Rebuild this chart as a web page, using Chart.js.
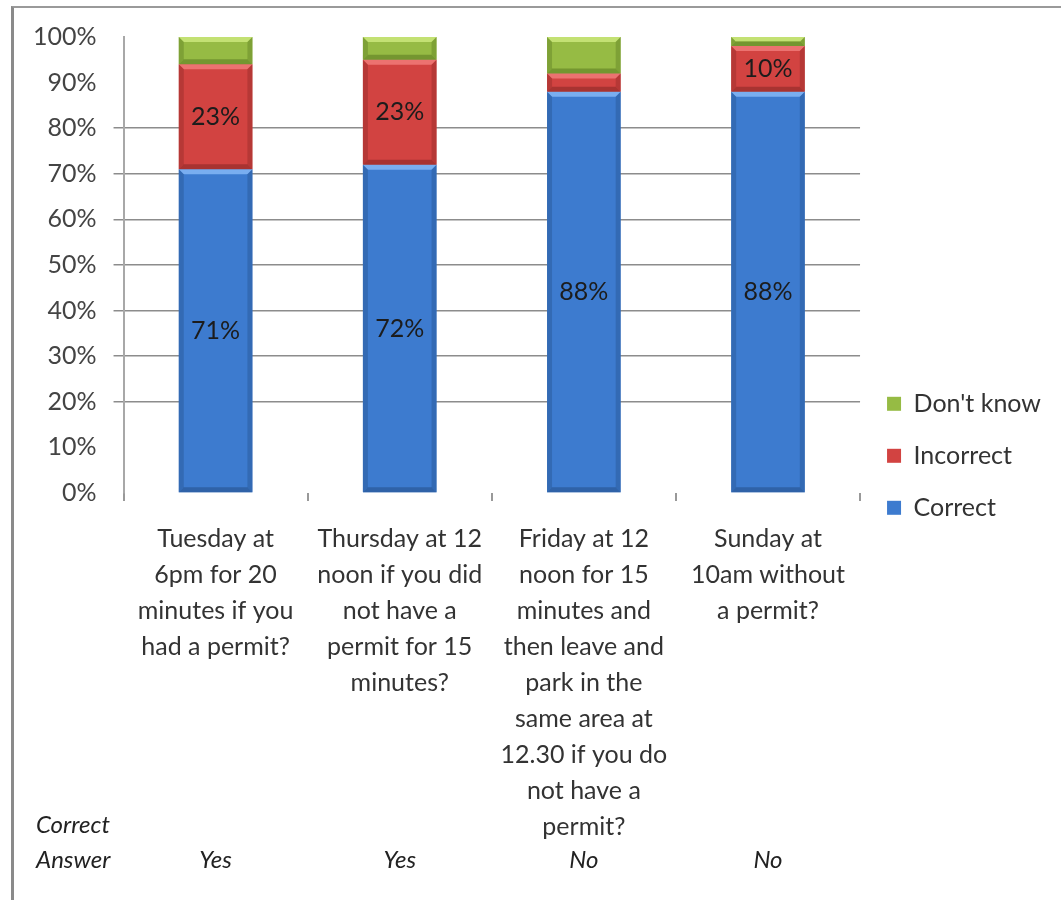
<!DOCTYPE html>
<html>
<head>
<meta charset="utf-8">
<script src="https://cdn.jsdelivr.net/npm/chart.js@4"></script>
<style>
  body { margin: 0; background: #fff; }
  #wrap { position: relative; width: 1061px; height: 900px; overflow: hidden; }
  #frame { position: absolute; left: 11px; top: 6px; right: -5px; bottom: -5px;
           border-left: 3px solid #8a8a8a; border-top: 2px solid #9a9a9a; }
  canvas { position: absolute; left: 0; top: 0; }
</style>
</head>
<body>
<div id="wrap">
  <div id="frame"></div>
  <canvas id="chart-board" width="1061" height="900"></canvas>
</div>
<script>
// data
const questions = [
  ['Tuesday at', '6pm for 20', 'minutes if you', 'had a permit?'],
  ['Thursday at 12', 'noon if you did', 'not have a', 'permit for 15', 'minutes?'],
  ['Friday at 12', 'noon for 15', 'minutes and', 'then leave and', 'park in the', 'same area at', '12.30 if you do', 'not have a', 'permit?'],
  ['Sunday at', '10am without', 'a permit?']
];
const correct = [71, 72, 88, 88];
const incorrect = [23, 23, 4, 10];
const dontKnow = [6, 5, 8, 2];
const answers = ['Yes', 'Yes', 'No', 'No'];

const FONT = 'Lato, "Open Sans", sans-serif';

// colours: face, light bevel, dark bevel
const blue = ['#3d7bcf', '#79aef0', '#2c5c9e'];
const red = ['#d24341', '#ec7270', '#9e2f2d'];
const green = ['#96bb44', '#c3e173', '#6c8d2c'];

// excel-ish bevel on every bar segment
const bevel = {
  id: 'bevel',
  afterDatasetsDraw(chart) {
    const c = chart.ctx;
    chart.data.datasets.forEach((ds, i) => {
      const meta = chart.getDatasetMeta(i);
      meta.data.forEach(bar => {
        const l = bar.x - bar.width / 2, r = bar.x + bar.width / 2;
        const t = Math.min(bar.y, bar.base), b = Math.max(bar.y, bar.base);
        const s = Math.min(5, (b - t) / 2);
        c.save();
        c.fillStyle = ds.shade[1];
        c.beginPath();
        c.moveTo(l, t); c.lineTo(r, t); c.lineTo(r - s, t + s); c.lineTo(l + s, t + s);
        c.fill();
        c.globalAlpha = 0.55;
        c.fillStyle = ds.shade[2];
        c.beginPath();
        c.moveTo(l, t); c.lineTo(l + s, t + s); c.lineTo(l + s, b - s); c.lineTo(l, b);
        c.fill();
        c.beginPath();
        c.moveTo(r, t); c.lineTo(r - s, t + s); c.lineTo(r - s, b - s); c.lineTo(r, b);
        c.fill();
        c.globalAlpha = 0.8;
        c.beginPath();
        c.moveTo(l, b); c.lineTo(l + s, b - s); c.lineTo(r - s, b - s); c.lineTo(r, b);
        c.fill();
        c.restore();
      });
    });
  }
};

// value labels inside the segments (only the larger ones, like the original)
const valueLabels = {
  id: 'valueLabels',
  afterDatasetsDraw(chart) {
    const c = chart.ctx;
    c.save();
    c.font = '25px ' + FONT;
    c.fillStyle = '#1c1c1c';
    c.textAlign = 'center';
    c.textBaseline = 'middle';
    chart.data.datasets.forEach((ds, i) => {
      if (!ds.showValues) return;
      chart.getDatasetMeta(i).data.forEach((bar, j) => {
        const v = ds.data[j];
        if (v < 10) return;
        c.fillText(v + '%', bar.x, (bar.y + bar.base) / 2);
      });
    });
    c.restore();
  }
};

// "Correct Answer" row under the category labels
const answerRow = {
  id: 'answerRow',
  afterDraw(chart) {
    const c = chart.ctx;
    const xs = chart.scales.x;
    c.save();
    c.font = 'italic 24px ' + FONT;
    c.fillStyle = '#222';
    c.textBaseline = 'middle';
    c.textAlign = 'left';
    c.fillText('Correct', 36, 825);
    c.fillText('Answer', 36, 860);
    c.textAlign = 'center';
    answers.forEach((a, i) => c.fillText(a, xs.getPixelForValue(i), 860));
    c.restore();
  }
};

const ctx = document.getElementById('chart-board').getContext('2d');
const chart = new Chart(ctx, {
  type: 'bar',
  data: {
    labels: questions,
    datasets: [
      { label: 'Correct', data: correct, backgroundColor: blue[0], shade: blue, showValues: true },
      { label: 'Incorrect', data: incorrect, backgroundColor: red[0], shade: red, showValues: true },
      { label: "Don't know", data: dontKnow, backgroundColor: green[0], shade: green, showValues: false }
    ]
  },
  options: {
    responsive: false,
    animation: false,
    layout: { padding: { left: 16, top: 37, right: 10, bottom: 35 } },
    datasets: { bar: { barPercentage: 0.4, categoryPercentage: 1 } },
    plugins: {
      legend: {
        position: 'right',
        align: 'center',
        reverse: true,
        // empty title only pushes the items down a bit
        title: { display: true, text: ' ', padding: 0, font: { size: 8, lineHeight: 1.2 } },
        labels: {
          boxWidth: 14, boxHeight: 14, padding: 27,
          color: '#333', font: { family: FONT, size: 25 }
        }
      },
      tooltip: { enabled: false }
    },
    scales: {
      x: {
        stacked: true,
        border: { display: false },
        grid: { drawOnChartArea: false, offset: true, tickLength: 8, color: '#999', lineWidth: 2 },
        ticks: {
          autoSkip: false, maxRotation: 0, padding: 20,
          color: '#333', font: { family: FONT, size: 25, lineHeight: 1.44 }
        }
      },
      y: {
        stacked: true,
        min: 0, max: 100,
        border: { color: '#a8a8a8', width: 2 },
        grid: {
          tickLength: 10, lineWidth: 1.5,
          color: c => (c.tick && c.tick.value >= 20 && c.tick.value <= 80) ? '#8c8c8c' : 'rgba(0,0,0,0)'
        },
        ticks: {
          stepSize: 10, padding: 17,
          color: '#444', font: { family: FONT, size: 25 },
          callback: v => v + '%'
        }
      }
    }
  },
  plugins: [bevel, valueLabels, answerRow]
});
</script>
</body>
</html>
